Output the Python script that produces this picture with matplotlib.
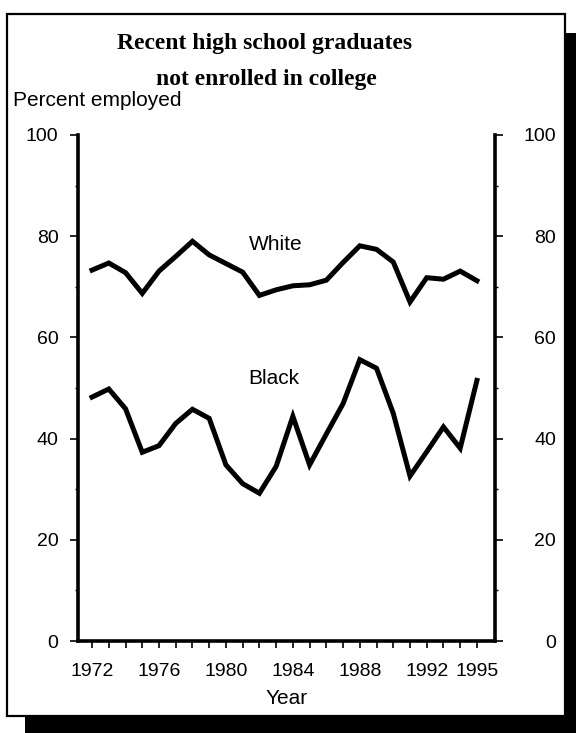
import matplotlib
matplotlib.use("Agg")
import matplotlib.pyplot as plt
from matplotlib.patches import Rectangle
from matplotlib.ticker import MultipleLocator

# Datos
years = list(range(1972, 1996))
white = [73.3, 74.7, 72.8, 68.7, 73.1, 76.0, 79.0, 76.3, 74.6, 72.9, 68.3, 69.4,
         70.2, 70.4, 71.3, 74.8, 78.1, 77.4, 74.9, 67.0, 71.8, 71.5, 73.1, 71.2]
black = [48.2, 49.8, 45.9, 37.3, 38.6, 43.0, 45.8, 44.0, 34.8, 31.1, 29.2, 34.5,
         44.4, 34.8, 40.9, 46.9, 55.6, 53.9, 45.0, 32.6, 37.4, 42.3, 38.1, 51.5]
year_labels = [1972, 1976, 1980, 1984, 1988, 1992, 1995]
y_ticks = [0, 20, 40, 60, 80, 100]

W, H = 576, 733
fig = plt.figure(figsize=(W / 100, H / 100), dpi=100)

# Sombra y marco
fig.patches.append(Rectangle((25 / W, -0.05), 1.0, 1 - 33 / H + 0.05,
                             transform=fig.transFigure, facecolor="black",
                             edgecolor="none", zorder=-3))
fig.patches.append(Rectangle((7 / W, 1 - 716 / H), 558 / W, 702 / H,
                             transform=fig.transFigure, facecolor="white",
                             edgecolor="black", linewidth=1.6, zorder=-2))

ax = fig.add_axes([78 / W, 1 - 641 / H, (495 - 78) / W, (641 - 135) / H])
ax.patch.set_alpha(0)

ax.plot(years, white, color="black", linewidth=3.6, solid_joinstyle="miter")
ax.plot(years, black, color="black", linewidth=3.6, solid_joinstyle="miter")

ax.set_xlim(1971.16, 1996.08)
ax.set_ylim(0, 100)

for s in ["left", "right", "bottom"]:
    ax.spines[s].set_linewidth(2.6)
ax.spines["top"].set_visible(False)

font = "Liberation Sans"
ax.set_yticks(y_ticks)
ax.yaxis.set_minor_locator(MultipleLocator(10))
ax.tick_params(axis="y", which="major", direction="out", length=6, width=1.2,
               pad=8, labelsize=14)
ax.tick_params(axis="y", which="minor", direction="out", length=2.5, width=1)

ax.set_xticks(years)
ax.set_xticklabels([str(y) if y in year_labels else "" for y in years])
ax.tick_params(axis="x", direction="out", length=5, width=1.2, pad=11, labelsize=14)
for lbl in ax.get_xticklabels() + ax.get_yticklabels():
    lbl.set_fontfamily(font)

ax.set_xlabel("Year", fontsize=15, fontfamily=font, labelpad=6)

ax2 = ax.twinx()
ax2.set_ylim(0, 100)
ax2.set_yticks(y_ticks)
ax2.yaxis.set_minor_locator(MultipleLocator(10))
ax2.tick_params(axis="y", which="major", direction="out", length=6, width=1.2,
                pad=38, labelsize=14)
ax2.tick_params(axis="y", which="minor", direction="out", length=2.5, width=1)
for lbl in ax2.get_yticklabels():
    lbl.set_fontfamily(font)
    lbl.set_horizontalalignment("right")
for s in ax2.spines.values():
    s.set_visible(False)

ax.text(1983.0, 78.3, "White", fontsize=15, fontfamily=font, ha="center", va="center")
ax.text(1982.85, 51.9, "Black", fontsize=15, fontfamily=font, ha="center", va="center")

fig.text(265 / W, 1 - 44 / H, "Recent high school graduates", fontsize=17,
         fontweight="bold", fontfamily="Liberation Serif", ha="center", va="center")
fig.text(266 / W, 1 - 79 / H, "not enrolled in college", fontsize=17,
         fontweight="bold", fontfamily="Liberation Serif", ha="center", va="center")
fig.text(13 / W, 1 - 101 / H, "Percent employed", fontsize=15, fontfamily=font,
         ha="left", va="center")

fig.savefig("out.png", dpi=100)
